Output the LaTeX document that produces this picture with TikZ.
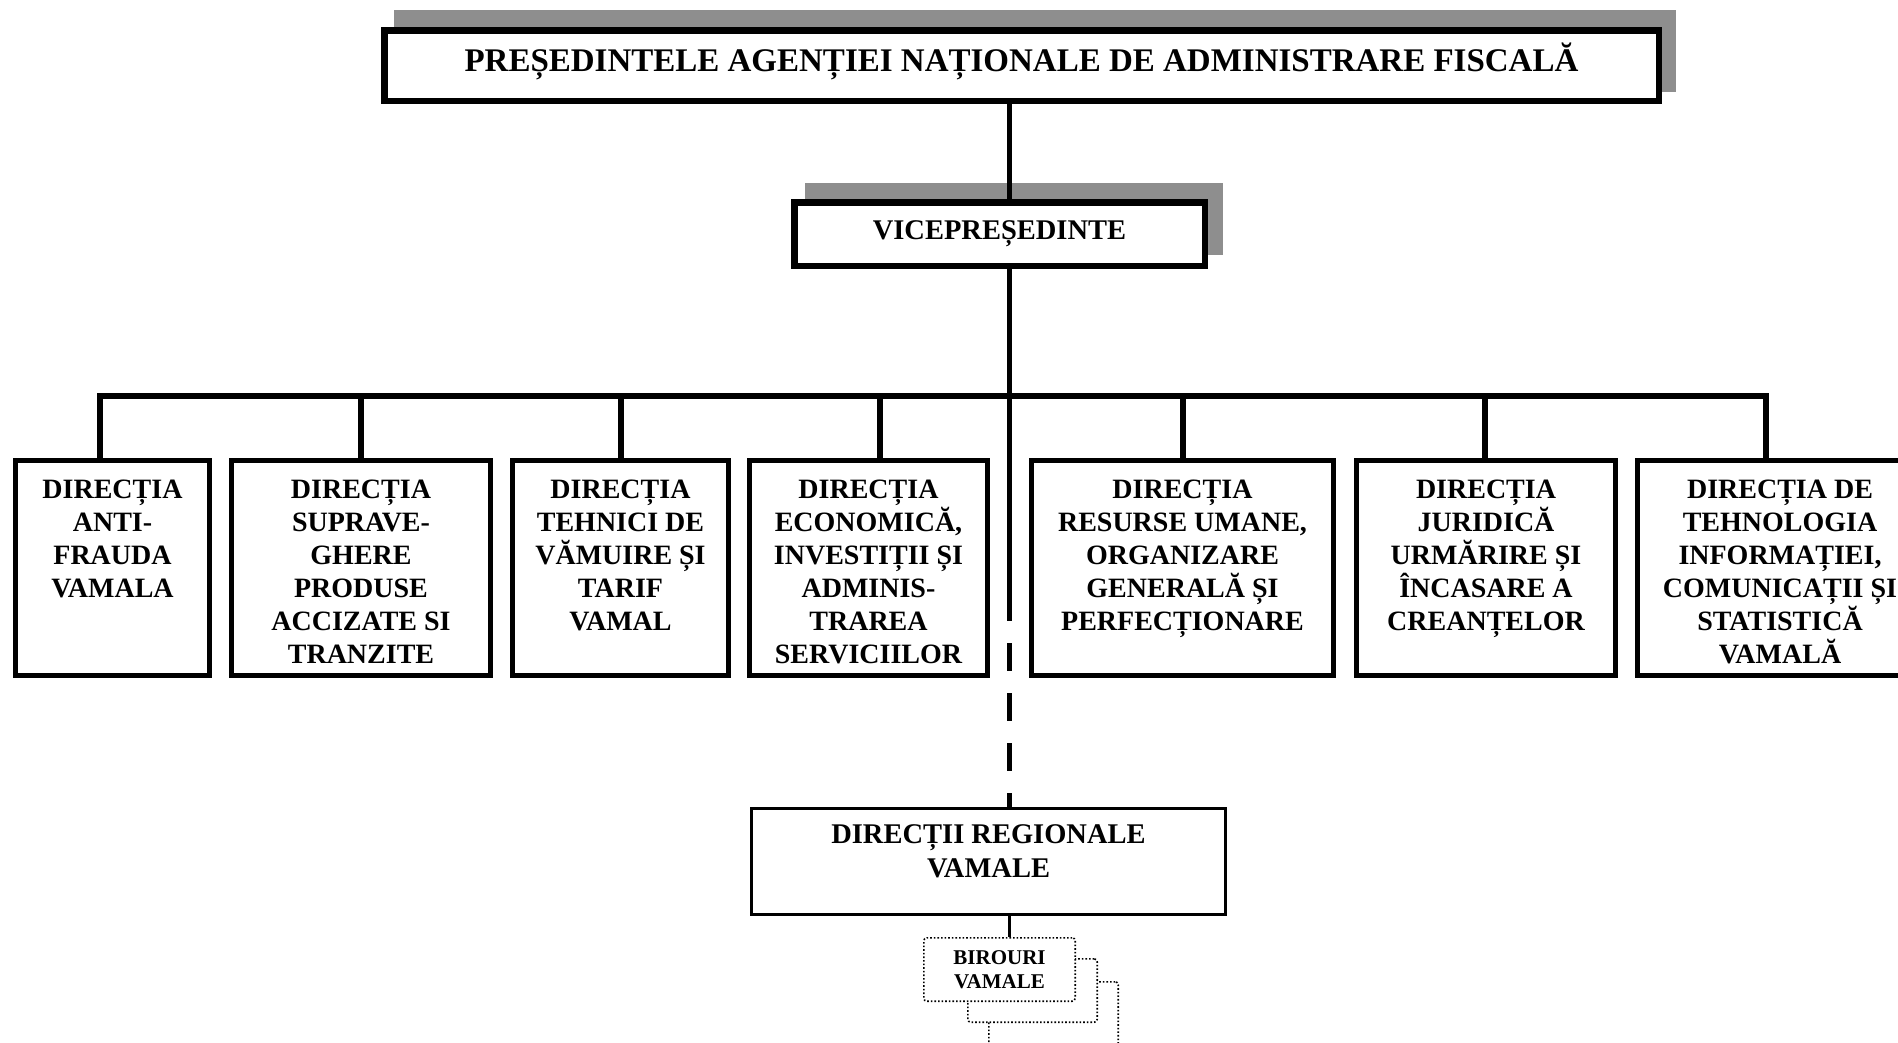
\documentclass[tikz,border=0pt]{standalone}
\usepackage{fontspec}
\setmainfont{Liberation Serif}
\definecolor{shadowgray}{RGB}{142,142,142}
\begin{document}
\begin{tikzpicture}[x=1pt,y=-1pt,
  topbox/.style={draw=black, fill=white, line width=6.5pt, inner sep=0pt},
  dirbox/.style={draw=black, fill=white, line width=5pt, inner sep=0pt, minimum height=215pt},
  regbox/.style={draw=black, fill=white, line width=3pt, inner sep=0pt},
  dirtext/.style={anchor=north, inner sep=0pt, align=center, font=\bfseries\fontsize{28}{33}\selectfont},
  conn/.style={line width=5.5pt},
  thinconn/.style={line width=2.5pt},
  dotbox/.style={draw=black, fill=white, dotted, line width=1.6pt, rounded corners=3pt, inner sep=0pt, align=center}
]
\fill[white] (0,0) rectangle (1898,1042);
\useasboundingbox (0,0) rectangle (1898,1042);

% shadows
\fill[shadowgray] (394,10) rectangle (1676,92);
\fill[shadowgray] (805,183) rectangle (1223,255);

% top boxes
\node[topbox, minimum width=1274.5pt, minimum height=70.5pt, text depth=16pt,
      font=\bfseries\fontsize{33}{38}\selectfont] (pres) at (1021.5,65.5)
      {PREȘEDINTELE AGENȚIEI NAȚIONALE DE ADMINISTRARE FISCALĂ};
\node[topbox, minimum width=410.5pt, minimum height=63.5pt,
      font=\bfseries\fontsize{28.5}{33}\selectfont] (vice) at (999.5,234)
      {VICEPREȘEDINTE};

% helper coordinates
\coordinate (cx) at (1009.5,396);
\coordinate (solidend) at (1009.5,621);
\coordinate (dashstart) at (1009.5,643);
\coordinate (t1) at (100,396);
\coordinate (t2) at (361,396);
\coordinate (t3) at (621,396);
\coordinate (t4) at (880,396);
\coordinate (t5) at (1183,396);
\coordinate (t6) at (1485,396);
\coordinate (t7) at (1766,396);

% direction boxes
\node[dirbox, minimum width=194pt] (d1) at (112.5,568) {};
\node[dirbox, minimum width=259pt] (d2) at (361,568) {};
\node[dirbox, minimum width=216pt] (d3) at (620.5,568) {};
\node[dirbox, minimum width=238pt] (d4) at (868.5,568) {};
\node[dirbox, minimum width=302pt] (d5) at (1182.5,568) {};
\node[dirbox, minimum width=259pt] (d6) at (1486,568) {};
\node[dirbox, minimum width=285pt] (d7) at (1780,568) {};

\node[dirtext] (x1) at (112.5,480) {DIRECȚIA\\ANTI-\\FRAUDA\\VAMALA};
\node[dirtext] (x2) at (361,480) {DIRECȚIA\\SUPRAVE-\\GHERE\\PRODUSE\\ACCIZATE SI\\TRANZITE};
\node[dirtext] (x3) at (620.5,480) {DIRECȚIA\\TEHNICI DE\\VĂMUIRE ȘI\\TARIF\\VAMAL};
\node[dirtext] (x4) at (868.5,480) {DIRECȚIA\\ECONOMICĂ,\\INVESTIȚII ȘI\\ADMINIS-\\TRAREA\\SERVICIILOR};
\node[dirtext] (x5) at (1182.5,480) {DIRECȚIA\\RESURSE UMANE,\\ORGANIZARE\\GENERALĂ ȘI\\PERFECȚIONARE};
\node[dirtext] (x6) at (1486,480) {DIRECȚIA\\JURIDICĂ\\URMĂRIRE ȘI\\ÎNCASARE A\\CREANȚELOR};
\node[dirtext] (x7) at (1780,480) {DIRECȚIA DE\\TEHNOLOGIA\\INFORMAȚIEI,\\COMUNICAȚII ȘI\\STATISTICĂ\\VAMALĂ};

% regional box
\node[regbox, minimum width=474pt, minimum height=106pt] (reg) at (988.5,861.5) {};
\node[dirtext, font=\bfseries\fontsize{28.5}{34}\selectfont] (regt) at (988.5,824) {DIRECȚII REGIONALE\\VAMALE};

% stacked dotted boxes
\node[dotbox, minimum width=129.4pt, minimum height=92.4pt] (b3) at (1053.5,1028) {};
\node[dotbox, minimum width=129.4pt, minimum height=63.4pt] (b2) at (1032.5,990.5) {};
\node[dotbox, minimum width=151.4pt, minimum height=63.4pt,
      font=\bfseries\fontsize{21}{24}\selectfont] (b1) at (999.5,969.5) {BIROURI\\VAMALE};

% connectors
\draw[conn] (pres.south -| cx) -- (vice.north -| cx);
\draw[conn] (vice.south -| cx) -- (solidend);
\draw[conn, dash pattern=on 28pt off 22pt] (dashstart) -- (reg.north -| cx);
\draw[conn, line join=miter] (t1 |- d1.north) -- (t1) -- (t7) -- (t7 |- d7.north);
\draw[conn] (t2) -- (t2 |- d2.north);
\draw[conn] (t3) -- (t3 |- d3.north);
\draw[conn] (t4) -- (t4 |- d4.north);
\draw[conn] (t5) -- (t5 |- d5.north);
\draw[conn] (t6) -- (t6 |- d6.north);
\draw[thinconn] (reg.south -| cx) -- (b1.north -| cx);
\end{tikzpicture}
\end{document}
